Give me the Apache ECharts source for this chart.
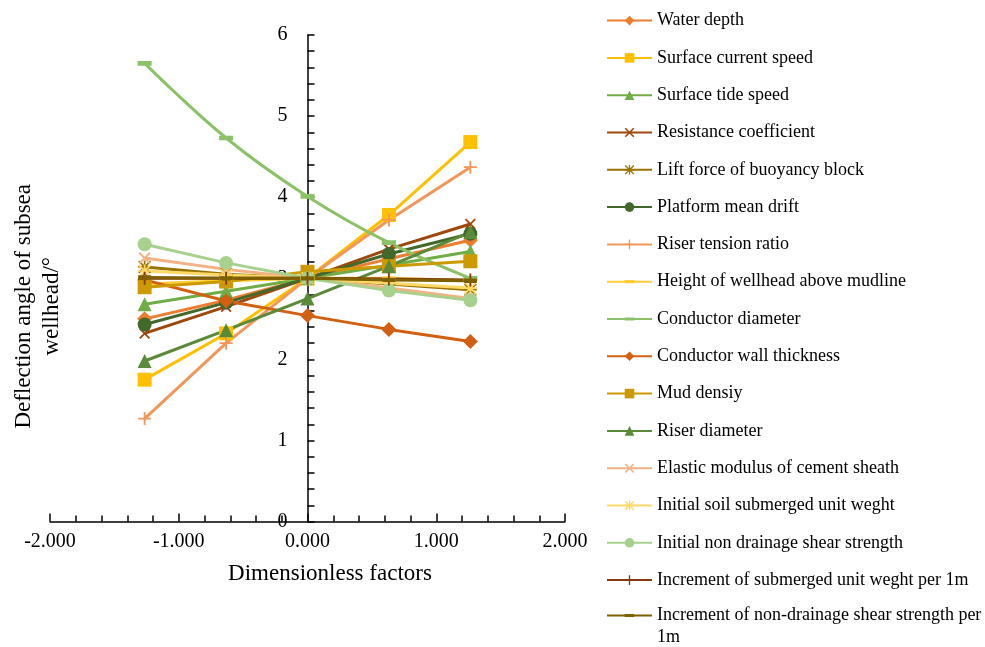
<!DOCTYPE html>
<html>
<head>
<meta charset="utf-8">
<script src="https://cdn.jsdelivr.net/npm/echarts@6/dist/echarts.min.js"></script>
<style>
html,body{margin:0;padding:0;background:#fff;}
#chart{width:985px;height:647px;}
</style>
</head>
<body>
<div id="chart"></div>
<script>
// Dimensionless factor levels (x)
const xValues = [-1.265, -0.632, 0, 0.632, 1.265];
const xTickLabels = ['-2.000', '-1.000', '0.000', '1.000', '2.000'];

const seriesNames = [
  'Water depth',
  'Surface current speed',
  'Surface tide speed',
  'Resistance coefficient',
  'Lift force of buoyancy block',
  'Platform mean drift',
  'Riser tension ratio',
  'Height of wellhead above mudline',
  'Conductor diameter',
  'Conductor wall thickness',
  'Mud densiy',
  'Riser diameter',
  'Elastic modulus of cement sheath',
  'Initial soil submerged unit weght',
  'Initial non drainage shear strength',
  'Increment of submerged unit weght per 1m',
  'Increment of non-drainage shear strength per 1m'
];

const waterDepth             = [2.50, 2.73, 3.00, 3.24, 3.47];
const surfaceCurrentSpeed    = [1.75, 2.32, 3.00, 3.78, 4.68];
const surfaceTideSpeed       = [2.68, 2.84, 3.00, 3.16, 3.33];
const resistanceCoefficient  = [2.32, 2.65, 3.00, 3.36, 3.67];
const liftForce              = [3.14, 3.05, 3.00, 2.93, 2.86];
const platformMeanDrift      = [2.43, 2.70, 3.00, 3.30, 3.55];
const riserTensionRatio      = [1.27, 2.20, 3.00, 3.72, 4.37];
const wellheadHeight         = [2.93, 2.97, 3.00, 3.00, 2.97];
const conductorDiameter      = [5.65, 4.73, 4.01, 3.44, 3.00];
const conductorWallThickness = [2.98, 2.72, 2.54, 2.37, 2.22];
const mudDensity             = [2.89, 2.96, 3.08, 3.15, 3.21];
const riserDiameter          = [1.98, 2.36, 2.75, 3.15, 3.57];
const elasticModulus         = [3.25, 3.11, 3.00, 2.88, 2.75];
const initialSoilWeight      = [3.09, 3.04, 3.00, 2.94, 2.88];
const initialShearStrength   = [3.42, 3.19, 3.00, 2.85, 2.73];
const incrementUnitWeight    = [3.00, 3.00, 3.00, 2.99, 2.98];
const incrementShearStrength = [3.01, 3.00, 3.00, 2.98, 2.97];

const seriesValues = [
  waterDepth, surfaceCurrentSpeed, surfaceTideSpeed, resistanceCoefficient,
  liftForce, platformMeanDrift, riserTensionRatio, wellheadHeight,
  conductorDiameter, conductorWallThickness, mudDensity, riserDiameter,
  elasticModulus, initialSoilWeight, initialShearStrength,
  incrementUnitWeight, incrementShearStrength
];

const colors = [
  '#ED7D31', '#FFC000', '#70AD47', '#9E480E', '#997300', '#43682B',
  '#F1975A', '#FFCD33', '#8CC168', '#D26012', '#CC9A00', '#5A8A3A',
  '#F4B183', '#FFD966', '#A9D18E', '#843C0C', '#7F6000'
];

const SYM_X = 'path://M0,1.4L1.4,0L12,10.6L10.6,12Z M10.6,0L12,1.4L1.4,12L0,10.6Z';
const SYM_PLUS = 'path://M5.15,0H6.85V5.15H12V6.85H6.85V12H5.15V6.85H0V5.15H5.15Z';
const SYM_STAR = 'path://M5.2,0H6.8V5.2H12V6.8H6.8V12H5.2V6.8H0V5.2H5.2Z M0,1.2L1.2,0L12,10.8L10.8,12Z M10.8,0L12,1.2L1.2,12L0,10.8Z';
// dash bar inside a square box (degenerate invisible points keep the square bounds)
const SYM_DASH = 'path://M0,4H12V8H0Z M6,0L6.01,0L6,0Z M6,12L6.01,12L6,12Z';

const markers = [
  ['diamond', 15], ['rect', 14], ['triangle', 14], [SYM_X, 11], [SYM_STAR, 13],
  ['circle', 14], [SYM_PLUS, 13], [SYM_DASH, 13], [SYM_DASH, 14],
  ['diamond', 15], ['rect', 14], ['triangle', 14], [SYM_X, 12], [SYM_STAR, 13],
  ['circle', 14], [SYM_PLUS, 13], [SYM_DASH, 13]
];

const FONT = "'Liberation Serif', 'Times New Roman', serif";

const series = seriesNames.map((name, i) => ({
  name: name,
  type: 'line',
  data: xValues.map((x, k) => [x, seriesValues[i][k]]),
  symbol: markers[i][0],
  symbolSize: markers[i][1],
  smooth: name === 'Conductor diameter' ? 0.35 : false,
  color: colors[i],
  lineStyle: { width: 3, color: colors[i] },
  itemStyle: { color: colors[i] },
  emphasis: { disabled: true },
  animation: false
}));

const chart = echarts.init(document.getElementById('chart'), null, { renderer: 'canvas' });
chart.setOption({
  backgroundColor: '#fff',
  animation: false,
  grid: { left: 50, right: 420, top: 35, bottom: 125.4, containLabel: false, outerBoundsMode: 'none' },
  legend: [
    {
      data: seriesNames.slice(0, 16),
      orient: 'vertical',
      left: 606,
      top: 11.6,
      padding: 0,
      itemWidth: 45,
      itemHeight: 12,
      itemGap: 19.3,
      selectedMode: false,
      textStyle: { fontFamily: FONT, fontSize: 18, color: '#000', lineHeight: 12 }
    },
    {
      data: seriesNames.slice(16),
      orient: 'vertical',
      left: 606,
      top: 582.5,
      padding: 0,
      itemWidth: 45,
      itemHeight: 12,
      selectedMode: false,
      formatter: (n) => ' \n' + n.replace(' per 1m', ' per\n1m'),
      textStyle: { fontFamily: FONT, fontSize: 18, color: '#000', lineHeight: 22 }
    }
  ],
  xAxis: {
    type: 'value',
    min: -2,
    max: 2,
    interval: 1,
    name: 'Dimensionless factors',
    nameLocation: 'middle',
    nameGap: 41,
    nameTextStyle: { fontFamily: FONT, fontSize: 23, color: '#000', padding: [0, 0, 0, 45] },
    axisLine: { onZero: false, lineStyle: { color: '#000', width: 1.5 } },
    axisTick: { show: true, inside: true, length: 8, lineStyle: { color: '#000', width: 1.5 } },
    minorTick: { show: true, splitNumber: 5, length: 6, lineStyle: { color: '#000', width: 1.5 } },
    axisLabel: {
      fontFamily: FONT, fontSize: 20, color: '#000', margin: 10,
      formatter: (v) => xTickLabels[Math.round(v) + 2]
    },
    splitLine: { show: false },
    minorSplitLine: { show: false }
  },
  yAxis: {
    type: 'value',
    min: 0,
    max: 6,
    interval: 1,
    offset: -257.5,
    name: 'Deflection angle of subsea\nwellhead/°',
    nameLocation: 'middle',
    nameGap: 242,
    nameTextStyle: { fontFamily: FONT, fontSize: 23, color: '#000', lineHeight: 28, padding: [0, 56, 0, 0] },
    axisLine: { onZero: false, lineStyle: { color: '#000', width: 1.5 } },
    axisTick: { show: true, inside: true, length: 7, lineStyle: { color: '#000', width: 1.5 } },
    minorTick: { show: true, splitNumber: 5, length: 7, lineStyle: { color: '#000', width: 1.5 } },
    axisLabel: { fontFamily: FONT, fontSize: 20, color: '#000', margin: 20 },
    splitLine: { show: false },
    minorSplitLine: { show: false }
  },
  series: series
});
</script>
</body>
</html>
